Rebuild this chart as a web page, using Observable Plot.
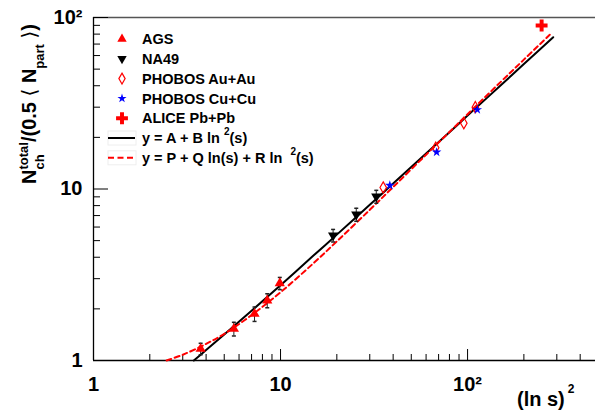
<!DOCTYPE html>
<html><head><meta charset="utf-8">
<script src="https://cdn.jsdelivr.net/npm/d3@7"></script>
<script src="https://cdn.jsdelivr.net/npm/@observablehq/plot@0.6"></script>
<style>
html,body{margin:0;padding:0;background:#fff;}
#chart{width:595px;height:417px;overflow:hidden;position:relative;}
</style></head><body><div id="chart"></div>
<script>
// ---- data ----
const agsX = [3.74, 5.63, 7.26, 8.49, 9.91];
const agsY = [1.17, 1.53, 1.87, 2.24, 2.82];
const agsErr = [0.09, 0.14, 0.18, 0.21, 0.23];

const na49X = [19.1, 25.4, 32.5];
const na49Y = [5.36, 7.10, 9.04];
const na49Err = [0.45, 0.62, 0.78];

const phobosAuX = [35.4, 67.5, 95.5, 110];
const phobosAuY = [10.2, 17.4, 24.2, 30.0];

const phobosCuX = [38.4, 68.3, 112.7];
const phobosCuY = [10.5, 16.4, 29.0];

const aliceX = [248.8];
const aliceY = [89.8];

// fit curves
const fitAX = [3.44, 4, 5, 7, 10, 15, 20, 30, 40, 60, 80, 100, 150, 200, 287];
const fitAY = [1.0, 1.15, 1.42, 1.95, 2.75, 4.09, 5.42, 8.09, 10.76, 16.1, 21.4, 26.8, 40.1, 53.5, 76.7];
const fitBX = [2.46, 3, 4, 5, 7, 10, 15, 20, 30, 40, 60, 80, 100, 150, 200, 275];
const fitBY = [1.0, 1.08, 1.25, 1.43, 1.84, 2.50, 3.69, 4.95, 7.56, 10.27, 15.84, 21.5, 27.3, 42.0, 56.8, 79.3];

// axes
const xMajor = [1, 10, 100];
const xTickLabels = ["1", "10", "10²"];
const xMinor = [2,3,4,5,6,7,8,9,20,30,40,50,60,70,80,90,200,300,400];
const yMajor = [1, 10, 100];
const yTickLabels = ["1", "10", "10²"];
const yMinor = [2,3,4,5,6,7,8,9,20,30,40,50,60,70,80,90];

const legendLabels = ["AGS", "NA49", "PHOBOS Au+Au", "PHOBOS Cu+Cu", "ALICE Pb+Pb"];

// ---- build tables ----
const zip = (xs, ys, es) => xs.map((x, i) => ({x, y: ys[i], e: es ? es[i] : 0}));
const ags = zip(agsX, agsY, agsErr);
const na49 = zip(na49X, na49Y, na49Err);
const phAu = zip(phobosAuX, phobosAuY);
const phCu = zip(phobosCuX, phobosCuY);
const alice = zip(aliceX, aliceY);
const fitA = zip(fitAX, fitAY);
const fitB = zip(fitBX, fitBY);
const errPts = ags.concat(na49);

const xLab = new Map(xMajor.map((d, i) => [d, xTickLabels[i]]));
const yLab = new Map(yMajor.map((d, i) => [d, yTickLabels[i]]));

const capSymbol = {draw(ctx) { ctx.moveTo(-2, 0); ctx.lineTo(2, 0); }};

const W = 595, H = 417, ML = 93, MR = 0, MT = 17, MB = 57;
const FONT = "'Liberation Sans', Arial, Helvetica, sans-serif";
const xDomain = [1, 483], yDomain = [1, 100];

// Plot scales used to convert the tick lengths (pixels) into data extents
const xs = Plot.scale({x: {type: "log", domain: xDomain, range: [ML, W - MR]}});
const ys = Plot.scale({y: {type: "log", domain: yDomain, range: [H - MB, MT]}});
const yMajTop = ys.invert(H - MB - 11), yMinTop = ys.invert(H - MB - 6);
const xMajEnd = xs.invert(ML + 15), xMinEnd = xs.invert(ML + 7);

const chart = Plot.plot({
  width: W, height: H,
  marginLeft: ML, marginRight: MR, marginTop: MT, marginBottom: MB,
  x: {type: "log", domain: xDomain, axis: null},
  y: {type: "log", domain: yDomain, axis: null},
  style: {fontFamily: FONT, background: "white", color: "black"},
  marks: [
    // frame
    Plot.ruleY([100], {stroke: "#555", strokeWidth: 1.3}),
    Plot.ruleY([1], {stroke: "black", strokeWidth: 1.3}),
    Plot.ruleX([1], {stroke: "black", strokeWidth: 1.3}),
    // inward ticks
    Plot.ruleX(xMajor, {x: d => d, y1: 1, y2: yMajTop, stroke: "black"}),
    Plot.ruleX(xMinor, {x: d => d, y1: 1, y2: yMinTop, stroke: "black"}),
    Plot.ruleY(yMajor, {y: d => d, x1: 1, x2: xMajEnd, stroke: "black"}),
    Plot.ruleY(yMinor, {y: d => d, x1: 1, x2: xMinEnd, stroke: "black"}),
    // tick labels
    Plot.axisX(xMajor, {tickSize: 0, tickPadding: 16, tickFormat: d => xLab.get(d), fontSize: 20, fontWeight: "bold", label: null}),
    Plot.axisY(yMajor, {tickSize: 0, tickPadding: 11, tickFormat: d => yLab.get(d), fontSize: 20, fontWeight: "bold", label: null}),
    // fit curves
    Plot.line(fitA, {x: "x", y: "y", stroke: "black", strokeWidth: 2, curve: "catmull-rom"}),
    Plot.line(fitB, {x: "x", y: "y", stroke: "#ff0000", strokeWidth: 2, strokeDasharray: "5,3.5", curve: "catmull-rom"}),
    // error bars
    Plot.ruleX(errPts, {x: "x", y1: d => d.y - d.e, y2: d => d.y + d.e, stroke: "#222", strokeWidth: 1}),
    Plot.dot(errPts, {x: "x", y: d => d.y - d.e, symbol: capSymbol, stroke: "#222", fill: "none", r: 3}),
    Plot.dot(errPts, {x: "x", y: d => d.y + d.e, symbol: capSymbol, stroke: "#222", fill: "none", r: 3}),
    // markers
    Plot.dot(ags, {x: "x", y: "y", symbol: "triangle", fill: "#ff0000", r: 3.8}),
    Plot.dot(na49, {x: "x", y: "y", symbol: "triangle", rotate: 180, fill: "black", r: 3.8}),
    Plot.dot(phAu, {x: "x", y: "y", symbol: "diamond", fill: "none", stroke: "#ff0000", strokeWidth: 1.2, r: 3.4}),
    Plot.dot(phCu, {x: "x", y: "y", symbol: "star", fill: "#0000ff", r: 3.0}),
    Plot.dot(alice, {x: "x", y: "y", symbol: "cross", fill: "#ff0000", r: 5.0})
  ]
});

document.getElementById("chart").appendChild(chart);
const svg = d3.select(chart);

// ---- legend ----
const lg = svg.append("g").attr("text-anchor", "start").style("font-family", FONT).style("font-weight", "bold").style("font-size", "14.5px");
const rowY = i => 39 + i * 19.8;
const mx = 122, tx = 142;
const sym = (type, size) => d3.symbol(type, size)();
const legMarks = [
  {path: sym(d3.symbolTriangle, 38), fill: "#ff0000", stroke: "none", rot: 0},
  {path: sym(d3.symbolTriangle, 38), fill: "black", stroke: "none", rot: 180},
  {path: sym(d3.symbolDiamond, 34), fill: "none", stroke: "#ff0000", rot: 0},
  {path: sym(d3.symbolStar, 26), fill: "#0000ff", stroke: "none", rot: 0},
  {path: sym(d3.symbolCross, 78), fill: "#ff0000", stroke: "none", rot: 0}
];
legendLabels.forEach((lab, i) => {
  const m = legMarks[i];
  lg.append("path").attr("d", m.path)
    .attr("transform", `translate(${mx},${rowY(i)}) rotate(${m.rot})`)
    .attr("fill", m.fill).attr("stroke", m.stroke).attr("stroke-width", 1.2);
  lg.append("text").attr("x", tx).attr("y", rowY(i)).attr("dy", "0.36em").text(lab);
});
// line entries
lg.append("rect").attr("x", 108).attr("y", rowY(5) - 7).attr("width", 28).attr("height", 14).attr("fill", "none").attr("stroke", "#eee");
lg.append("line").attr("x1", 108).attr("x2", 135).attr("y1", rowY(5)).attr("y2", rowY(5)).attr("stroke", "black").attr("stroke-width", 2);
const t1 = lg.append("text").attr("x", 142).attr("y", rowY(5)).attr("dy", "0.36em");
t1.append("tspan").text("y = A + B ln ");
t1.append("tspan").attr("font-size", "10px").attr("dy", -8).text("2");
t1.append("tspan").attr("dy", 8).text("(s)");
lg.append("rect").attr("x", 108).attr("y", rowY(6) - 7).attr("width", 28).attr("height", 14).attr("fill", "none").attr("stroke", "#eee");
lg.append("line").attr("x1", 108).attr("x2", 135).attr("y1", rowY(6)).attr("y2", rowY(6)).attr("stroke", "#ff0000").attr("stroke-width", 2).attr("stroke-dasharray", "6,3.5");
const t2 = lg.append("text").attr("x", 142).attr("y", rowY(6)).attr("dy", "0.36em");
t2.append("tspan").text("y = P + Q ln(s) + R ln  ");
t2.append("tspan").attr("font-size", "10px").attr("dy", -8).text("2");
t2.append("tspan").attr("dy", 8).text("(s)");

// ---- axis titles ----
const xt = svg.append("text").attr("x", 517).attr("y", 406).attr("text-anchor", "start")
  .style("font-family", FONT).style("font-weight", "bold").style("font-size", "20px");
xt.append("tspan").text("(ln s)");
xt.append("tspan").attr("font-size", "12px").attr("dx", 3).attr("dy", -13).text("2");

const yt = svg.append("text").attr("transform", "translate(36,104) rotate(-90)")
  .attr("text-anchor", "middle")
  .style("font-family", FONT).style("font-weight", "bold").style("font-size", "20px");
yt.append("tspan").text("N");
yt.append("tspan").attr("font-size", "13px").attr("dy", -8).text("total");
yt.append("tspan").attr("font-size", "13px").attr("dx", -27.4).attr("dy", 16).text("ch");
yt.append("tspan").attr("dx", 12.2).attr("dy", -8).text("/(0.5 ");
yt.append("tspan").style("font-weight", "normal").style("font-family", "'DejaVu Sans', sans-serif").text("⟨");
yt.append("tspan").text(" N");
yt.append("tspan").attr("font-size", "13px").attr("dy", 8).text("part");
yt.append("tspan").attr("dy", -8).text(" ");
yt.append("tspan").style("font-weight", "normal").style("font-family", "'DejaVu Sans', sans-serif").text("⟩");
yt.append("tspan").text(")");
</script></body></html>
